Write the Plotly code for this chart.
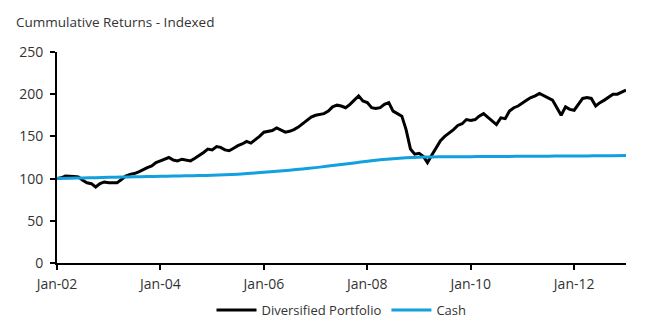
import plotly.graph_objects as go
import pandas as pd

# Monthly index values, Jan-02 .. Jan-13
portfolio_start = "2002-01-01"
portfolio = [
    100, 101, 103, 103, 102.5, 102, 98, 95, 94, 90, 94, 96,
    95, 95, 95, 99, 103, 105, 106, 108, 111, 113, 115, 119,
    121, 123, 125, 122, 121, 123, 122, 121, 124, 127, 131, 135,
    134, 138, 137, 134, 133, 136, 139, 141, 144, 142, 146, 150,
    155, 156, 157, 160, 158, 155, 156, 158, 161, 165, 170, 173,
    175, 176, 177, 180, 185, 187, 186, 184, 188, 193, 198, 192,
    190, 184, 183, 184, 188, 190, 180, 177, 174, 158, 135, 129,
    130, 126, 119, 128, 136, 145, 150, 154, 158, 163, 165, 170,
    169, 170, 174, 177, 173, 168, 164, 172, 171, 180, 184, 186,
    190, 193, 196, 198, 201, 198, 195, 193, 184, 175, 185, 182,
    181, 188, 195, 196, 195, 186, 190, 193, 197, 200, 200, 202,
    205,
]

# Quarterly cash index values, Jan-02 .. Jan-13
cash_start = "2002-01-01"
cash = [
    100, 100.4, 100.8, 101.1,
    101.5, 101.8, 102.1, 102.4,
    102.7, 103.0, 103.3, 103.6,
    104.0, 104.6, 105.3, 106.3,
    107.5, 108.7, 110.0, 111.5,
    113.0, 114.8, 116.7, 118.6,
    120.5, 122.2, 123.6, 124.7,
    125.4, 125.7, 125.8, 125.9,
    126.0, 126.1, 126.2, 126.3,
    126.4, 126.5, 126.6, 126.7,
    126.8, 126.9, 127.0, 127.2,
    127.3,
]

series_names = ["Diversified Portfolio", "Cash"]
title_text = "Cummulative Returns - Indexed"
tick_dates = ["2002-01-01", "2004-01-01", "2006-01-01", "2008-01-01", "2010-01-01", "2012-01-01"]
tick_labels = ["Jan-02", "Jan-04", "Jan-06", "Jan-08", "Jan-10", "Jan-12"]
y_ticks = [0, 50, 100, 150, 200, 250]

port_dates = pd.date_range(portfolio_start, periods=len(portfolio), freq="MS")
cash_dates = pd.date_range(cash_start, periods=len(cash), freq="QS")

font_family = "Open Sans, Lato, sans-serif"
text_color = "#333333"

fig = go.Figure()
fig.add_trace(go.Scatter(x=port_dates, y=portfolio, mode="lines", name=series_names[0],
                         line=dict(color="#000000", width=3)))
fig.add_trace(go.Scatter(x=cash_dates, y=cash, mode="lines", name=series_names[1],
                         line=dict(color="#12A0DE", width=3, shape="spline", smoothing=0.6)))

fig.update_layout(
    width=657, height=328,
    margin=dict(l=57, r=31, t=52, b=65, autoexpand=False),
    paper_bgcolor="white", plot_bgcolor="white",
    font=dict(family=font_family, size=13, color=text_color),
    title=dict(text=title_text, x=16 / 657, xref="container", xanchor="left",
               y=1 - 22 / 328, yref="container", yanchor="middle",
               font=dict(size=13.5, color=text_color)),
    showlegend=True,
    legend=dict(orientation="h", x=0.5, xanchor="center", y=-0.223, yanchor="middle",
                font=dict(size=13, color=text_color), itemwidth=40, tracegroupgap=0),
    xaxis=dict(
        range=["2002-01-01", "2013-01-01"],
        tickvals=tick_dates, ticktext=tick_labels,
        showgrid=False, zeroline=False, automargin=False,
        showline=True, linecolor="black", linewidth=2,
        ticks="outside", ticklen=5, tickwidth=2, tickcolor="black",
        tickfont=dict(size=14, color=text_color),
        ticklabelstandoff=2,
    ),
    yaxis=dict(
        range=[0, 250], tickvals=y_ticks,
        showgrid=False, zeroline=False, automargin=False,
        showline=True, linecolor="black", linewidth=2,
        ticks="outside", ticklen=5, tickwidth=2, tickcolor="black",
        tickfont=dict(size=14, color=text_color),
        ticklabelstandoff=4,
    ),
)

fig.write_html("out.html")
